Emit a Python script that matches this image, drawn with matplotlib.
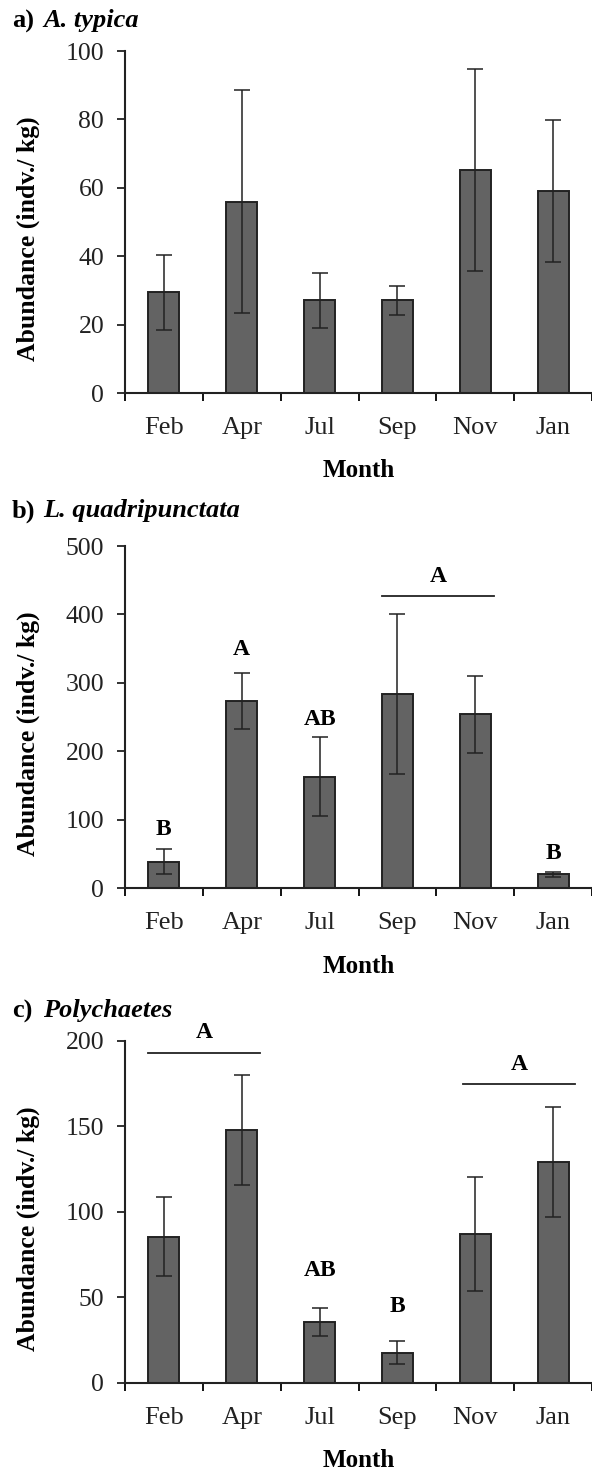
import numpy as np
import matplotlib.pyplot as plt

plt.rcParams['font.family'] = ['Liberation Serif', 'DejaVu Serif']

months = ['Feb', 'Apr', 'Jul', 'Sep', 'Nov', 'Jan']

# a) A. typica
typica_mean = [29.4, 56.0, 27.1, 27.1, 65.1, 59.0]
typica_err = [11.0, 32.6, 8.0, 4.2, 29.5, 20.8]

# b) L. quadripunctata
quad_mean = [38.4, 272.9, 163.0, 284.0, 253.9, 20.0]
quad_err = [18.0, 41.0, 58.0, 117.0, 56.7, 3.6]
quad_letters = ['B', 'A', 'AB', '', '', 'B']
quad_letter_y = [85, 349, 247, 0, 0, 50]

# c) Polychaetes
poly_mean = [85.6, 147.8, 35.7, 17.7, 87.2, 129.3]
poly_err = [23.0, 32.3, 8.2, 6.7, 33.2, 32.0]
poly_letters = ['', '', 'AB', 'B', '', '']
poly_letter_y = [0, 0, 66, 44.7, 0, 0]

# group lines: (x start, x end, line y, label y)
quad_groups = [(2.80, 4.24, 427, 456)]
poly_groups = [(-0.20, 1.23, 192.8, 205), (3.84, 5.28, 174.8, 186.4)]

# (tag, name, means, errs, letters, letter y, groups, ymax, ystep, axes bottom, title px)
panels = [
    ('a)', 'A. typica', typica_mean, typica_err, [], [], [], 100, 20, 0.7330, 21),
    ('b)', 'L. quadripunctata', quad_mean, quad_err, quad_letters, quad_letter_y,
     quad_groups, 500, 100, 0.3967, 511),
    ('c)', 'Polychaetes', poly_mean, poly_err, poly_letters, poly_letter_y,
     poly_groups, 200, 50, 0.0605, 1011),
]

fig = plt.figure(figsize=(5.92, 14.72), dpi=100)
x = np.arange(len(months))

for tag, name, mean, err, letters, letter_y, groups, ymax, ystep, bottom, title_px in panels:
    ax = fig.add_axes([125 / 592, bottom, 467 / 592, 342 / 1472])
    ax.bar(x, mean, width=0.4, color='#636363', edgecolor='#222222', linewidth=1.4,
           zorder=2)
    ax.errorbar(x, mean, yerr=err, fmt='none', ecolor='#222222', elinewidth=1.1,
                capsize=5.5, capthick=1.1, zorder=3)
    for xi, lab, ly in zip(x, letters, letter_y):
        if lab:
            ax.text(xi, ly, lab, ha='center', va='center', fontsize=17,
                    fontweight='bold', clip_on=False)
    for x0, x1, ly, ty in groups:
        ax.plot([x0, x1], [ly, ly], color='#222222', lw=1.3, clip_on=False)
        ax.text((x0 + x1) / 2, ty, 'A', ha='center', va='center', fontsize=17,
                fontweight='bold', clip_on=False)

    ax.set_xlim(-0.5, 5.5)
    ax.set_ylim(0, ymax)
    ax.set_yticks(np.arange(0, ymax + 1, ystep))
    ax.set_xticks(np.arange(-0.5, 6, 1.0))
    ax.set_xticklabels([])
    ax.set_xticks(x, minor=True)
    ax.set_xticklabels(months, minor=True)
    ax.tick_params(axis='x', which='major', direction='out', length=6, width=1.3)
    ax.tick_params(axis='x', which='minor', length=0, pad=17, labelsize=19,
                   colors='#222222')
    ax.tick_params(axis='y', direction='out', length=6, width=1.3, pad=9,
                   labelsize=18.5, colors='#222222')
    for side in ['top', 'right']:
        ax.spines[side].set_visible(False)
    for side in ['left', 'bottom']:
        ax.spines[side].set_linewidth(1.5)
        ax.spines[side].set_color('#222222')

    ax.set_xlabel('Month', fontsize=18, fontweight='bold', labelpad=15)
    ax.set_ylabel('Abundance (indv./ kg)', fontsize=18.5, fontweight='bold')
    ax.yaxis.set_label_coords(-0.183, 0.45)

    title_y = 1 - title_px / 1472
    fig.text(12 / 592, title_y, tag, fontsize=19, fontweight='bold',
             va='center', ha='left')
    fig.text(43 / 592, title_y, name, fontsize=19, fontweight='bold',
             style='italic', va='center', ha='left')

fig.savefig('out.png', dpi=100)
